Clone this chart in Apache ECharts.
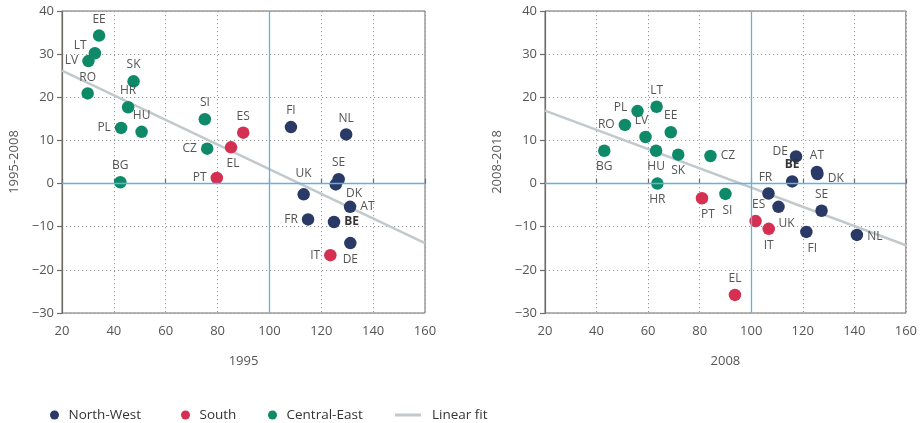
<!DOCTYPE html>
<html><head><meta charset="utf-8">
<script src="https://cdn.jsdelivr.net/npm/echarts@6/dist/echarts.min.js"></script>
<style>html,body{margin:0;padding:0;background:#fff}#c{width:920px;height:423px}</style>
</head><body><div id="c"></div>
<script>
// ---- Data: left panel (x = 1995 level, y = 1995-2008 change)
const nwNames1 = ['FI','NL','SE','DK','UK','AT','FR','BE','DE'];
const nwX1 = [108.3, 129.6, 126.7, 125.6, 113.2, 131.1, 114.9, 124.9, 131.2];
const nwY1 = [13.1, 11.4, 1.0, -0.2, -2.5, -5.4, -8.3, -8.9, -13.8];
const sNames1 = ['ES','EL','PT','IT'];
const sX1 = [89.9, 85.2, 79.7, 123.5];
const sY1 = [11.8, 8.4, 1.3, -16.6];
const ceNames1 = ['EE','LT','LV','RO','SK','HR','PL','HU','BG','SI','CZ'];
const ceX1 = [34.3, 32.7, 30.2, 29.9, 47.6, 45.5, 42.8, 50.7, 42.5, 75.1, 76.0];
const ceY1 = [34.3, 30.2, 28.4, 20.9, 23.7, 17.7, 12.9, 12.0, 0.3, 14.9, 8.1];
const fitX1 = [20, 160];
const fitY1 = [26.2, -13.8];

// ---- Data: right panel (x = 2008 level, y = 2008-2018 change)
const nwNames2 = ['DE','AT','DK','BE','FR','UK','SE','FI','NL'];
const nwX2 = [117.4, 125.5, 125.7, 115.9, 106.7, 110.6, 127.3, 121.4, 141.0];
const nwY2 = [6.3, 2.7, 2.2, 0.5, -2.3, -5.4, -6.3, -11.2, -11.9];
const sNames2 = ['PT','ES','IT','EL'];
const sX2 = [80.9, 101.7, 106.8, 93.7];
const sY2 = [-3.4, -8.7, -10.5, -25.8];
const ceNames2 = ['LT','PL','RO','LV','EE','BG','HU','SK','HR','CZ','SI'];
const ceX2 = [63.3, 55.9, 51.0, 59.0, 68.8, 43.0, 63.1, 71.7, 63.6, 84.2, 90.0];
const ceY2 = [17.8, 16.8, 13.6, 10.8, 11.9, 7.6, 7.6, 6.7, 0.0, 6.4, -2.4];
const fitX2 = [20, 160];
const fitY2 = [16.9, -14.3];

const xTitles = ['1995', '2008'];
const yTitles = ['1995-2008', '2008-2018'];
const groupNames = ['North-West', 'South', 'Central-East', 'Linear fit'];

// ---- Label placement (style, kept separate from data)
const place1 = {
  FI:['top',0,0], NL:['top',0,0], SE:['top',0,0], DK:['right',0,9], UK:['top',0,-5],
  AT:['right',0,0], FR:['left',0,0], BE:['right',0,0], DE:['bottom',0,0],
  ES:['top',0,0], EL:['bottom',2,0], PT:['left',0,0], IT:['left',0,0],
  EE:['top',0,0], LT:['left',2,-8], LV:['left',0,0], RO:['top',0,0], SK:['top',0,0],
  HR:['top',0,0], PL:['left',0,0], HU:['top',0,0], BG:['top',0,0], SI:['top',0,0], CZ:['left',0,0]
};
const place2 = {
  DE:['left',2,-5], AT:['top',0,0], DK:['right',0,4], BE:['top',0,-1], FR:['top',-3,0],
  UK:['bottom',8,0], SE:['top',0,0], FI:['bottom',6,0], NL:['right',0,2],
  PT:['bottom',6,0], ES:['top',3,0], IT:['bottom',0,0], EL:['top',0,0],
  LT:['top',0,0], PL:['left',0,-4], RO:['left',0,0], LV:['top',-4,0], EE:['top',0,0],
  BG:['bottom',0,0], HU:['bottom',0,0], SK:['bottom',0,0], HR:['bottom',0,0],
  CZ:['right',0,0], SI:['bottom',2,0]
};

const colors = ['#2a3a66', '#d52f52', '#0e8a68', '#c2c9cd'];
const FONT = '"Open Sans", "Noto Sans", sans-serif';
const minus = v => String(v).replace('-', '\u2212');

function pts(names, xs, ys, place) {
  return names.map((n, i) => {
    const p = place[n] || ['top',0,0];
    const lab = { position: p[0], offset: [p[1], p[2]] };
    if (n === 'BE') { lab.fontWeight = 'bold'; lab.color = '#333'; }
    return { name: n, value: [xs[i], ys[i]], label: lab };
  });
}

const grids = [
  { left: 62, top: 11, width: 363, height: 302 },
  { left: 545, top: 11, width: 364, height: 302 }
].map(g => Object.assign(g, { show: true, borderColor: '#6f6b67', borderWidth: 1, backgroundColor: 'transparent' }));

function xAxis(i) {
  return {
    gridIndex: i, type: 'value', min: 20, max: 160, interval: 20,
    name: xTitles[i], nameLocation: 'middle', nameGap: 42,
    nameTextStyle: { fontFamily: FONT, fontSize: 13, color: '#555' },
    axisLine: { show: true, lineStyle: { color: '#6f6b67', width: 1.2 } },
    axisTick: { show: true, inside: true, length: 5, lineStyle: { color: '#6f6b67', width: 1.2 } },
    axisLabel: { fontFamily: FONT, fontSize: 13, color: '#555', margin: 12, formatter: minus },
    splitLine: { show: true, lineStyle: { color: '#9a9a9a', type: [1.2, 2.8], width: 1 } }
  };
}
function yAxis(i) {
  return {
    gridIndex: i, type: 'value', min: -30, max: 40, interval: 10,
    name: yTitles[i], nameLocation: 'middle', nameGap: 41, nameRotate: 90,
    nameTextStyle: { fontFamily: FONT, fontSize: 13, color: '#555' },
    axisLine: { show: true, lineStyle: { color: '#6f6b67', width: 1.2 } },
    axisTick: { show: true, inside: false, length: 5, lineStyle: { color: '#6f6b67', width: 1.2 } },
    axisLabel: { fontFamily: FONT, fontSize: 13, color: '#555', margin: 8, formatter: minus },
    splitLine: { show: true, lineStyle: { color: '#9a9a9a', type: [1.2, 2.8], width: 1 } }
  };
}

function scatter(name, color, data, i) {
  return {
    type: 'scatter', name, xAxisIndex: i, yAxisIndex: i, z: 4,
    symbol: 'circle', symbolSize: 12.5, data,
    itemStyle: { color, opacity: 1 },
    label: { show: true, formatter: '{b}', fontFamily: FONT, fontSize: 12, color: '#555', distance: 4 },
    emphasis: { disabled: true }
  };
}
function fit(xs, ys, i) {
  return {
    type: 'line', name: 'Linear fit', xAxisIndex: i, yAxisIndex: i, z: 3,
    data: xs.map((x, k) => [x, ys[k]]), symbol: 'none', silent: true,
    lineStyle: { color: colors[3], width: 2.5 },
    itemStyle: { color: colors[3] },
    markLine: {
      silent: true, symbol: 'none', label: { show: false }, animation: false,
      lineStyle: { color: '#64b0de', type: 'solid', width: 1.3 },
      data: [{ xAxis: 100 }, { yAxis: 0 }]
    }
  };
}

const legendBase = {
  top: 408, orient: 'horizontal', selectedMode: false, padding: 0,
  textStyle: { fontFamily: FONT, fontSize: 13.5, color: '#333' }
};
const legends = [
  Object.assign({}, legendBase, { left: 50, data: [{ name: groupNames[0], icon: 'circle' }], itemWidth: 18, itemHeight: 9 }),
  Object.assign({}, legendBase, { left: 181, data: [{ name: groupNames[1], icon: 'circle' }], itemWidth: 18, itemHeight: 9 }),
  Object.assign({}, legendBase, { left: 268, data: [{ name: groupNames[2], icon: 'circle' }], itemWidth: 18, itemHeight: 9 }),
  Object.assign({}, legendBase, { left: 395, data: [{ name: groupNames[3], icon: 'rect' }], itemWidth: 26, itemHeight: 3,
    textStyle: { fontFamily: FONT, fontSize: 13.5, color: '#333', padding: [0, 0, 0, 6] } })
];

const chart = echarts.init(document.getElementById('c'), null, { renderer: 'canvas' });
chart.setOption({
  animation: false,
  backgroundColor: '#fff',
  grid: grids,
  xAxis: [xAxis(0), xAxis(1)],
  yAxis: [yAxis(0), yAxis(1)],
  legend: legends,
  series: [
    fit(fitX1, fitY1, 0),
    fit(fitX2, fitY2, 1),
    scatter(groupNames[0], colors[0], pts(nwNames1, nwX1, nwY1, place1), 0),
    scatter(groupNames[1], colors[1], pts(sNames1, sX1, sY1, place1), 0),
    scatter(groupNames[2], colors[2], pts(ceNames1, ceX1, ceY1, place1), 0),
    scatter(groupNames[0], colors[0], pts(nwNames2, nwX2, nwY2, place2), 1),
    scatter(groupNames[1], colors[1], pts(sNames2, sX2, sY2, place2), 1),
    scatter(groupNames[2], colors[2], pts(ceNames2, ceX2, ceY2, place2), 1)
  ]
});
</script></body></html>
